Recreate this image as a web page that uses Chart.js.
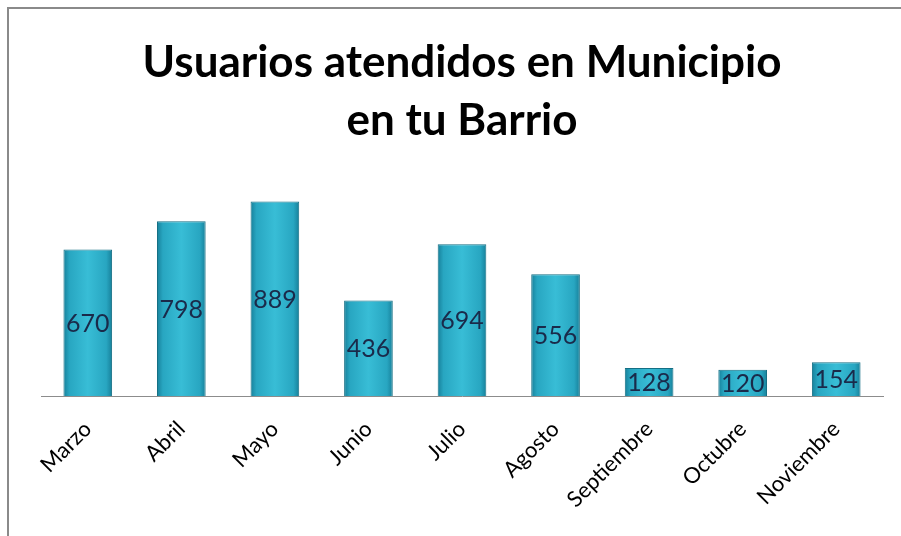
<!DOCTYPE html>
<html><head><meta charset="utf-8">
<script src="https://cdn.jsdelivr.net/npm/chart.js@4/dist/chart.umd.min.js"></script>
<style>
html,body{margin:0;padding:0;background:#fff;}
#wrap{position:relative;width:901px;height:536px;overflow:hidden;}
#frame{position:absolute;left:7px;top:7px;width:900px;height:540px;border:2px solid #8a8a8a;box-sizing:border-box;pointer-events:none;}
canvas{position:absolute;left:0;top:0;}
</style></head>
<body>
<div id="wrap"><canvas id="c" width="901" height="536"></canvas><div id="frame"></div></div>
<script>
const categories = ["Marzo","Abril","Mayo","Junio","Julio","Agosto","Septiembre","Octubre","Noviembre"];
const values = [670,798,889,436,694,556,128,120,154];
const titleLines = ["Usuarios atendidos en Municipio","en tu Barrio"];

const labelPlugin = {
  id:'barLabels',
  afterDatasetsDraw(chart){
    const ctx = chart.ctx;
    const meta = chart.getDatasetMeta(0);
    ctx.save();
    ctx.font = '25px Lato';
    ctx.fillStyle = '#1a2a4a';
    ctx.textAlign = 'center';
    ctx.textBaseline = 'middle';
    meta.data.forEach((el,i)=>{
      const mid = (el.y + el.base)/2;
      ctx.fillText(String(values[i]), el.x, mid + 1);
    });
    ctx.restore();
  }
};

function barFill(context){
  const chart = context.chart;
  const ca = chart.chartArea;
  if(!ca || context.dataIndex === undefined) return '#2fb0c9';
  const xs = chart.scales.x;
  const cx = xs.getPixelForValue(context.dataIndex);
  const w = (xs.width / categories.length) * 0.52;
  if(!isFinite(cx) || !isFinite(w)) return '#2fb0c9';
  const g = chart.ctx.createLinearGradient(cx - w/2, 0, cx + w/2, 0);
  g.addColorStop(0, '#17809a');
  g.addColorStop(0.12, '#28a6c1');
  g.addColorStop(0.5, '#38bdd6');
  g.addColorStop(0.88, '#28a6c1');
  g.addColorStop(1, '#17809a');
  return g;
}

new Chart(document.getElementById('c'), {
  type:'bar',
  data:{labels:categories, datasets:[{data:values, backgroundColor:barFill, borderColor:'#146f84', borderWidth:1, barPercentage:0.65, categoryPercentage:0.8}]},
  options:{
    responsive:false, animation:false,
    layout:{padding:{left:41,right:18,top:0,bottom:0}},
    plugins:{
      legend:{display:false}, tooltip:{enabled:false},
      title:{display:true, text:titleLines, color:'#000', font:{family:'Lato', size:44, weight:'bold', lineHeight:1.32}, padding:{top:34,bottom:27}}
    },
    scales:{
      y:{display:false, min:0, max:1000},
      x:{
        grid:{display:false, drawTicks:false},
        border:{display:true, color:'#8c8c8c', width:1},
        ticks:{color:'#000', font:{family:'Lato', size:22}, maxRotation:45, minRotation:45, padding:20},
        afterFit(scale){ scale.height = 140; }
      }
    }
  },
  plugins:[labelPlugin]
});
</script>
</body></html>
